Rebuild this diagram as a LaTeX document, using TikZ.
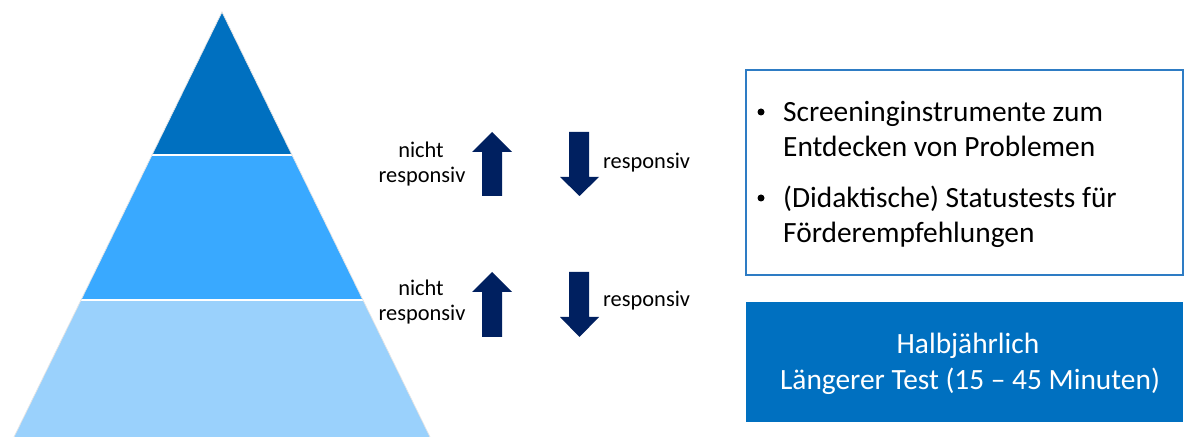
\documentclass[tikz,border=0pt]{standalone}
\usepackage{fontspec}
\setmainfont{Carlito}
\usetikzlibrary{calc}
\definecolor{topblue}{HTML}{0070C0}
\definecolor{midblue}{HTML}{39A9FF}
\definecolor{lowblue}{HTML}{9AD1FC}
\definecolor{navy}{HTML}{002060}
\definecolor{framblue}{HTML}{2E7CC4}
\tikzset{
  small/.style={inner sep=0pt, anchor=base, font=\fontsize{22.5}{27}\selectfont, text=black},
  smallw/.style={small, anchor=base west},
  big/.style={inner sep=0pt, anchor=base west, font=\fontsize{29.5}{36}\selectfont, text=black},
  bigc/.style={inner sep=0pt, anchor=base, font=\fontsize{29.5}{36}\selectfont, text=white},
  bulletdot/.style={circle, fill=black, inner sep=0pt, minimum size=7bp},
  navyarrow/.style={fill=navy},
}
\begin{document}
\begin{tikzpicture}[x=1bp,y=-1bp]
\useasboundingbox (0,0) rectangle (1185,437);
\fill[white] (0,0) rectangle (1185,437);
% pyramid
\coordinate (A) at (222,12);
\coordinate (L) at (14,437);
\coordinate (R) at (430,437);
\coordinate (L1) at ($(A)!0.3365!(L)$);
\coordinate (R1) at ($(A)!0.3365!(R)$);
\coordinate (L2) at ($(A)!0.6776!(L)$);
\coordinate (R2) at ($(A)!0.6776!(R)$);
\fill[topblue] (A) -- (L1) -- (R1) -- cycle;
\fill[midblue] (L1) -- (L2) -- (R2) -- (R1) -- cycle;
\fill[lowblue] (L2) -- (L) -- (R) -- (R2) -- cycle;
\draw[white, line width=2.2] (L1) -- (R1) (L2) -- (R2);
\draw[gray!20, line width=0.7] (L) -- (A) -- (R);
% arrows, upper pair
\fill[navyarrow] (482,196) -- (482,152) -- (472,152) -- (492,132) -- (512,152) -- (502,152) -- (502,196) -- cycle;
\fill[navyarrow] (569,132) -- (569,177) -- (560,177) -- (579.5,196) -- (599,177) -- (589,177) -- (589,132) -- cycle;
% arrows, lower pair
\fill[navyarrow] (482,337) -- (482,292) -- (472,292) -- (492,272) -- (512,292) -- (502,292) -- (502,337) -- cycle;
\fill[navyarrow] (569,272) -- (569,317) -- (560,317) -- (579.5,337) -- (599,317) -- (589,317) -- (589,272) -- cycle;
% labels
\node[small] (n1) at (421,158) {nicht};
\node[small] (r1) at (422,183) {responsiv};
\node[smallw] (r1b) at (603,169) {responsiv};
\node[small] (n2) at (421,296) {nicht};
\node[small] (r2) at (422,321) {responsiv};
\node[smallw] (r2b) at (603,307) {responsiv};
% bullet box
\draw[framblue, line width=1.6] (746,70) rectangle (1183,275);
\node[bulletdot] (b1) at (761,112) {};
\node[big] (t1) at (783,122) {Screeninginstrumente zum};
\node[big] (t2) at (783,157) {Entdecken von Problemen};
\node[bulletdot] (b2) at (761,198) {};
\node[big] (t3) at (783,208) {(Didaktische) Statustests für};
\node[big] (t4) at (783,243) {Förderempfehlungen};
% blue box
\fill[topblue] (746,302) rectangle (1183,422);
\node[bigc] (h1) at (968,354) {Halbjährlich};
\node[bigc] (h2) at (970,390) {Längerer Test (15 – 45 Minuten)};
\end{tikzpicture}
\end{document}
